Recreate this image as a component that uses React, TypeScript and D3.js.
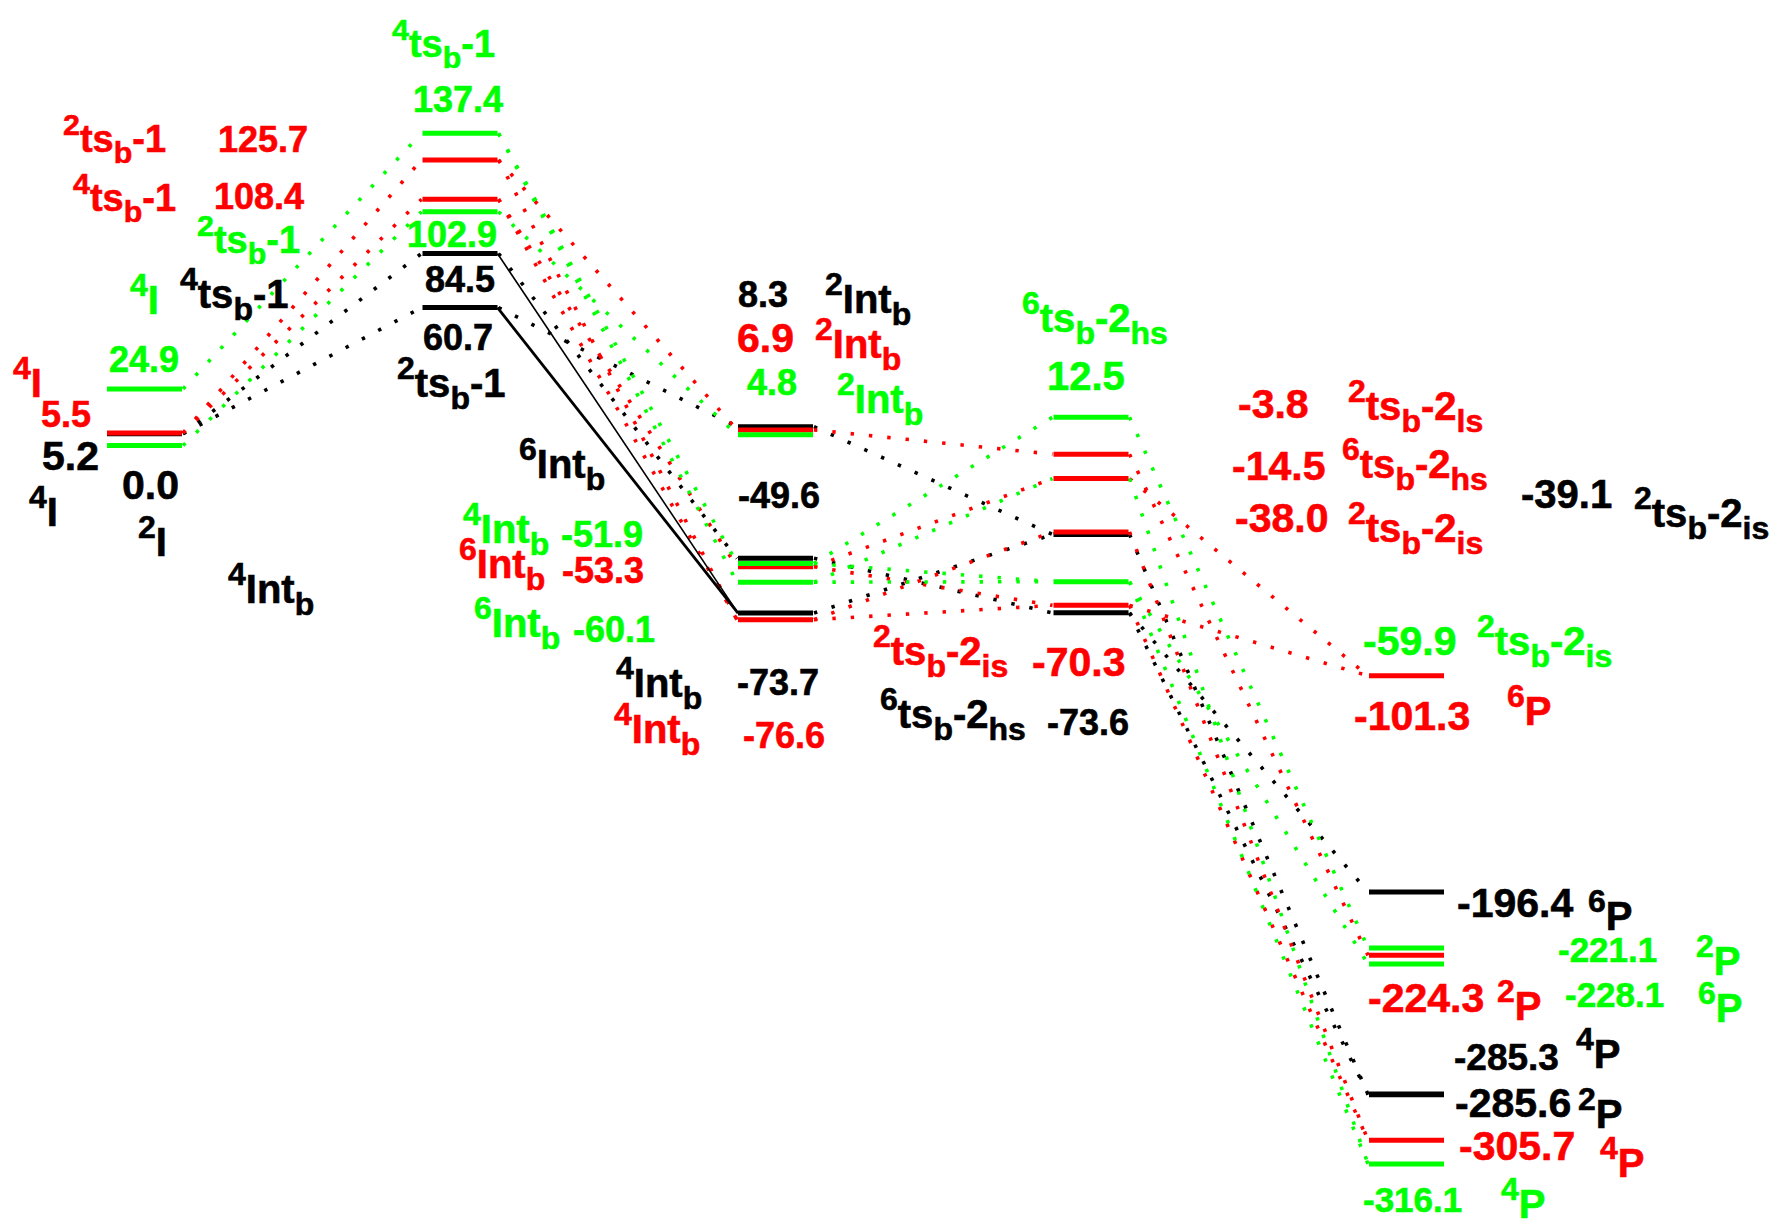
import React from 'react';
import * as d3 from 'd3';

const BLACK = '#000000';
const RED = '#ff0000';
const GREEN = '#00ff00';

// Relative energies (kcal/mol). stage: 0 = I, 1 = ts_b-1, 2 = Int_b, 3 = ts_b-2, 4 = P
// Names: {..} superscript, [..] subscript
const blackLevels = [
  { id: 'k4I', stage: 0, energy: 5.2, name: '{4}I' },
  { id: 'k2I', stage: 0, energy: 0.0, name: '{2}I' },
  { id: 'k4ts1', stage: 1, energy: 84.5, name: '{4}ts[b]-1' },
  { id: 'k2ts1', stage: 1, energy: 60.7, name: '{2}ts[b]-1' },
  { id: 'k2Int', stage: 2, energy: 8.3, name: '{2}Int[b]' },
  { id: 'k6Int', stage: 2, energy: -49.6, name: '{6}Int[b]' },
  { id: 'k4Int', stage: 2, energy: -73.7, name: '{4}Int[b]' },
  { id: 'k2ts2is', stage: 3, energy: -39.1, name: '{2}ts[b]-2[is]' },
  { id: 'k6ts2hs', stage: 3, energy: -73.6, name: '{6}ts[b]-2[hs]' },
  { id: 'k6P', stage: 4, energy: -196.4, name: '{6}P' },
  { id: 'k4P', stage: 4, energy: -285.3, name: '{4}P' },
  { id: 'k2P', stage: 4, energy: -285.6, name: '{2}P' },
];

const redLevels = [
  { id: 'r4I', stage: 0, energy: 5.5, name: '{4}I' },
  { id: 'r2ts1', stage: 1, energy: 125.7, name: '{2}ts[b]-1' },
  { id: 'r4ts1', stage: 1, energy: 108.4, name: '{4}ts[b]-1' },
  { id: 'r2Int', stage: 2, energy: 6.9, name: '{2}Int[b]' },
  { id: 'r6Int', stage: 2, energy: -53.3, name: '{6}Int[b]' },
  { id: 'r4Int', stage: 2, energy: -76.6, name: '{4}Int[b]' },
  { id: 'r2ts2ls', stage: 3, energy: -3.8, name: '{2}ts[b]-2[ls]' },
  { id: 'r6ts2hs', stage: 3, energy: -14.5, name: '{6}ts[b]-2[hs]' },
  { id: 'r2ts2is', stage: 3, energy: -38.0, name: '{2}ts[b]-2[is]' },
  { id: 'r2ts2isB', stage: 3, energy: -70.3, name: '{2}ts[b]-2[is]' },
  { id: 'r6P', stage: 4, energy: -101.3, name: '{6}P' },
  { id: 'r2P', stage: 4, energy: -224.3, name: '{2}P' },
  { id: 'r4P', stage: 4, energy: -305.7, name: '{4}P' },
];

const greenLevels = [
  { id: 'g4I', stage: 0, energy: 24.9, name: '{4}I' },
  { id: 'g2I', stage: 0, energy: 0.0, name: '{2}I' },
  { id: 'g4ts1', stage: 1, energy: 137.4, name: '{4}ts[b]-1' },
  { id: 'g2ts1', stage: 1, energy: 102.9, name: '{2}ts[b]-1' },
  { id: 'g2Int', stage: 2, energy: 4.8, name: '{2}Int[b]' },
  { id: 'g4Int', stage: 2, energy: -51.9, name: '{4}Int[b]' },
  { id: 'g6Int', stage: 2, energy: -60.1, name: '{6}Int[b]' },
  { id: 'g6ts2hs', stage: 3, energy: 12.5, name: '{6}ts[b]-2[hs]' },
  { id: 'g2ts2is', stage: 3, energy: -59.9, name: '{2}ts[b]-2[is]' },
  { id: 'g2P', stage: 4, energy: -221.1, name: '{2}P' },
  { id: 'g6P', stage: 4, energy: -228.1, name: '{6}P' },
  { id: 'g4P', stage: 4, energy: -316.1, name: '{4}P' },
];

// Dotted correlation lines [from, to]
const blackPaths = [
  ['k4I', 'k4ts1'], ['k4I', 'k2ts1'],
  ['k4ts1', 'k6Int'], ['k2ts1', 'k2Int'],
  ['k2Int', 'k2ts2is'], ['k6Int', 'k6ts2hs'], ['k4Int', 'k2ts2is'],
  ['k6ts2hs', 'k6P'], ['k6ts2hs', 'k4P'], ['k2ts2is', 'k2P'],
];
// Solid black connections
const blackSolidPaths = [['k4ts1', 'k4Int'], ['k2ts1', 'k4Int']];

const redPaths = [
  ['r4I', 'r2ts1'], ['r4I', 'r4ts1'],
  ['r2ts1', 'r2Int'], ['r2ts1', 'r4Int'], ['r4ts1', 'r6Int'], ['r4ts1', 'r4Int'],
  ['r2Int', 'r2ts2ls'], ['r6Int', 'r6ts2hs'], ['r6Int', 'r2ts2isB'],
  ['r4Int', 'r2ts2isB'], ['r4Int', 'r2ts2is'],
  ['r6ts2hs', 'r6P'], ['r2ts2isB', 'r6P'], ['r2ts2ls', 'r2P'],
  ['r2ts2is', 'r4P'], ['r2ts2isB', 'r4P'],
];

const greenPaths = [
  ['g4I', 'g4ts1'], ['g2I', 'g2ts1'],
  ['g4ts1', 'g4Int'], ['g4ts1', 'g6Int'], ['g2ts1', 'g2Int'],
  ['g4Int', 'g6ts2hs'], ['g4Int', 'g2ts2is'], ['g6Int', 'r6ts2hs'], ['g6Int', 'g2ts2is'],
  ['g6ts2hs', 'g2P'], ['g2ts2is', 'g6P'], ['g2ts2is', 'g4P'], ['r6ts2hs', 'g4P'],
];

// Label placement: id -> [left x, baseline y, font size]
const valueLabelLayout: Record<string, [number, number, number]> = {
  k4I: [42, 470, 41], k2I: [122, 499, 41], r4I: [41, 427, 36], g4I: [109, 372, 36],
  g4ts1: [413, 112, 36], r2ts1: [218, 152, 36], r4ts1: [214, 209, 36], g2ts1: [407, 247, 36],
  k4ts1: [425, 292, 36], k2ts1: [423, 350, 36],
  k2Int: [738, 307, 36], r2Int: [737, 352, 41], g2Int: [747, 395, 36], k6Int: [738, 508, 36],
  g4Int: [561, 547, 36], r6Int: [562, 583, 36], g6Int: [573, 642, 36],
  k4Int: [737, 695, 36], r4Int: [743, 748, 36],
  g6ts2hs: [1047, 390, 40], r2ts2ls: [1238, 418, 41], r6ts2hs: [1232, 480, 41],
  r2ts2is: [1235, 532, 41], k2ts2is: [1521, 508, 40], g2ts2is: [1363, 655, 41],
  r2ts2isB: [1032, 676, 41], k6ts2hs: [1047, 735, 36],
  r6P: [1354, 730, 41], k6P: [1457, 917, 41], g2P: [1558, 962, 35], r2P: [1368, 1012, 41],
  g6P: [1565, 1007, 35], k4P: [1454, 1070, 37], k2P: [1455, 1117, 41], r4P: [1459, 1160, 41],
  g4P: [1363, 1212, 35],
};

const nameLabelLayout: [string, number, number, number][] = [
  ['r2ts1', 63, 152, 38], ['r4ts1', 73, 211, 38], ['g2ts1', 197, 253, 38],
  ['g4I', 130, 314, 40], ['k4ts1', 180, 308, 40], ['r4I', 13, 397, 40],
  ['k4I', 29, 526, 40], ['k2I', 138, 556, 40], ['k4Int', 228, 603, 40],
  ['g4ts1', 392, 57, 38], ['k2ts1', 397, 397, 40],
  ['k2Int', 825, 313, 40], ['r2Int', 815, 358, 40], ['g2Int', 837, 413, 40],
  ['g6ts2hs', 1022, 332, 40], ['k6Int', 519, 478, 40],
  ['g4Int', 463, 543, 40], ['r6Int', 459, 578, 40], ['g6Int', 474, 637, 40],
  ['k4Int', 616, 697, 40], ['r4Int', 614, 743, 40],
  ['r2ts2isB', 873, 665, 40], ['k6ts2hs', 880, 728, 40],
  ['r2ts2ls', 1348, 420, 40], ['r6ts2hs', 1342, 478, 40], ['r2ts2is', 1348, 542, 40],
  ['k2ts2is', 1634, 527, 40], ['g2ts2is', 1477, 655, 40],
  ['r6P', 1507, 725, 40], ['k6P', 1588, 930, 40], ['g2P', 1696, 975, 40],
  ['r2P', 1497, 1020, 40], ['g6P', 1698, 1022, 40], ['k4P', 1576, 1068, 40],
  ['k2P', 1578, 1128, 40], ['r4P', 1600, 1177, 40], ['g4P', 1501, 1218, 40],
];

const FONT = '"Liberation Sans", Arial, Helvetica, sans-serif';

type Token = { text: string; kind: 'sup' | 'sub' | 'base' };

function parseName(name: string): Token[] {
  const out: Token[] = [];
  const re = /\{([^}]*)\}|\[([^\]]*)\]|([^{\[]+)/g;
  let m: RegExpExecArray | null;
  while ((m = re.exec(name))) {
    if (m[1] !== undefined) out.push({ text: m[1], kind: 'sup' });
    else if (m[2] !== undefined) out.push({ text: m[2], kind: 'sub' });
    else out.push({ text: m[3], kind: 'base' });
  }
  return out;
}

function NameLabel({ name, x, y, size, color }: { name: string; x: number; y: number; size: number; color: string }) {
  const tokens = parseName(name);
  const small = size * 0.8;
  let offset = 0;
  return (
    <text
      x={x}
      y={y}
      fill={color}
      stroke={color}
      strokeWidth={0.6}
      fontFamily={FONT}
      fontWeight={700}
      fontSize={size}
    >
      {tokens.map((t, i) => {
        const target = t.kind === 'sup' ? -0.45 * size : t.kind === 'sub' ? 0.3 * size : 0;
        const dy = target - offset;
        offset = target;
        return (
          <tspan key={i} dy={dy} fontSize={t.kind === 'base' ? size : small}>
            {t.text}
          </tspan>
        );
      })}
    </text>
  );
}

export default function App() {
  const W = 1775;
  const H = 1222;
  const levels = [
    ...blackLevels.map((l) => ({ ...l, color: BLACK })),
    ...redLevels.map((l) => ({ ...l, color: RED })),
    ...greenLevels.map((l) => ({ ...l, color: GREEN })),
  ];
  const byId = new Map(levels.map((l) => [l.id, l]));

  const x = d3.scaleLinear().domain([0, 4]).range([107, 1369]);
  const y = d3.scaleLinear().domain([-316.1, 137.4]).range([1164, 133.3]);
  const barW = 75;

  const link = (a: string, b: string) => {
    const p = byId.get(a)!;
    const q = byId.get(b)!;
    return { x1: x(p.stage) + barW + 1, y1: y(p.energy), x2: x(q.stage) - 1, y2: y(q.energy) };
  };

  const dotted = [
    ...blackPaths.map((p) => ({ p, color: BLACK })),
    ...redPaths.map((p) => ({ p, color: RED })),
    ...greenPaths.map((p) => ({ p, color: GREEN })),
  ];

  return (
    <svg
      width={W}
      height={H}
      viewBox={`0 0 ${W} ${H}`}
      style={{ position: 'absolute', left: 0, top: 0, background: '#fff' }}
    >
      <rect x={0} y={0} width={W} height={H} fill="#fff" />
      <g>
        {dotted.map(({ p, color }, i) => {
          const s = link(p[0], p[1]);
          return (
            <line key={i} {...s} stroke={color} strokeWidth={3.6} strokeDasharray="3.4 15" />
          );
        })}
      </g>
      <g>
        {blackSolidPaths.map((p, i) => {
          const s = link(p[0], p[1]);
          return <line key={i} {...s} x1={s.x1 - 1} x2={s.x2 + 1} stroke={BLACK} strokeWidth={i === 0 ? 1.6 : 2.8} />;
        })}
      </g>
      <g>
        {levels.map((l) => (
          <line
            key={l.id}
            x1={x(l.stage)}
            x2={x(l.stage) + barW}
            y1={y(l.energy)}
            y2={y(l.energy)}
            stroke={l.color}
            strokeWidth={5}
          />
        ))}
      </g>
      <g>
        {levels
          .filter((l) => valueLabelLayout[l.id])
          .map((l) => {
            const [lx, ly, fs] = valueLabelLayout[l.id];
            return (
              <text
                key={l.id}
                x={lx}
                y={ly}
                fill={l.color}
                stroke={l.color}
                strokeWidth={0.6}
                fontFamily={FONT}
                fontWeight={700}
                fontSize={fs}
              >
                {l.energy.toFixed(1)}
              </text>
            );
          })}
      </g>
      <g>
        {nameLabelLayout.map(([id, lx, ly, fs], i) => {
          const l = byId.get(id)!;
          return <NameLabel key={i} name={l.name} x={lx} y={ly} size={fs} color={l.color} />;
        })}
      </g>
    </svg>
  );
}
